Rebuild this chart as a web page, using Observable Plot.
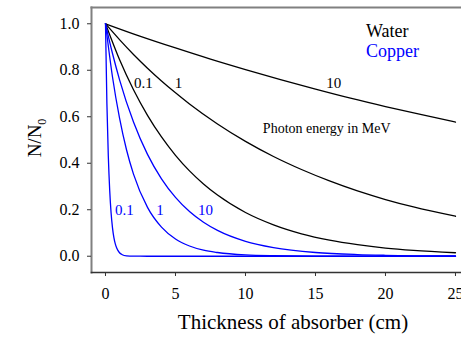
<!DOCTYPE html>
<html><head><meta charset="utf-8">
<script src="https://cdn.jsdelivr.net/npm/d3@7"></script>
<script src="https://cdn.jsdelivr.net/npm/@observablehq/plot@0.6"></script>
<style>body{margin:0;background:#fff} svg text{font-family:"Liberation Serif",serif !important}</style>
</head><body><div id="chart"></div>
<script>
// Water curves (black), photon energy in MeV
const water10X = [0, 2.5, 5, 7.5, 10, 12.5, 15, 17.5, 20, 22.5, 25];
const water10Y = [1, 0.946, 0.896, 0.848, 0.803, 0.760, 0.719, 0.680, 0.644, 0.610, 0.577];
const water1X = [0, 1, 2, 3, 4, 5, 6, 8, 10, 12, 14, 16, 18, 20, 22, 25];
const water1Y = [1, 0.932, 0.868, 0.809, 0.754, 0.703, 0.655, 0.569, 0.494, 0.429, 0.373, 0.324, 0.281, 0.244, 0.212, 0.172];
const water01X = [0, 1, 2, 3, 4, 5, 6, 7, 8, 10, 12, 14, 16, 18, 20, 22, 25];
const water01Y = [1, 0.846, 0.716, 0.606, 0.513, 0.434, 0.367, 0.311, 0.263, 0.188, 0.135, 0.0965, 0.069, 0.0495, 0.035, 0.025, 0.015];
// Copper curves (blue)
const copper10X = [0, 0.5, 1, 2, 3, 4, 5, 6, 7, 8, 10, 12, 15, 18, 20, 25];
const copper10Y = [1, 0.872, 0.760, 0.577, 0.438, 0.333, 0.253, 0.192, 0.146, 0.111, 0.064, 0.037, 0.016, 0.0071, 0.0041, 0.001];
const copper1X = [0, 0.5, 1, 1.5, 2, 3, 4, 5, 6, 7, 8, 10, 12, 15, 20, 25];
const copper1Y = [1, 0.771, 0.595, 0.458, 0.353, 0.210, 0.125, 0.074, 0.044, 0.026, 0.016, 0.0055, 0.002, 0.0004, 0, 0];
const copper01X = [0, 0.1, 0.2, 0.3, 0.4, 0.5, 0.6, 0.7, 0.8, 1.0, 1.2, 1.5, 2, 3, 25];
const copper01Y = [1, 0.657, 0.432, 0.284, 0.186, 0.122, 0.080, 0.053, 0.035, 0.015, 0.0065, 0.0018, 0.0002, 0, 0];

const xTicks = [0, 5, 10, 15, 20, 25];
const yTicks = [0, 0.2, 0.4, 0.6, 0.8, 1.0];

const labelTexts = ["0.1", "1", "10", "0.1", "1", "10"];
const labelMaterials = ["Water", "Water", "Water", "Copper", "Copper", "Copper"];
const labelX = [2.71, 5.21, 16.3, 1.35, 3.9, 7.15];
const labelY = [0.745, 0.745, 0.745, 0.196, 0.196, 0.196];

const legendTexts = ["Water", "Copper"];
const legendX = [18.6, 18.6];
const legendY = [0.945, 0.857];

const noteText = "Photon energy in MeV";

const colors = {Water: "#000000", Copper: "#0000ff"};

const seriesDefs = [
  ["Water", "10", water10X, water10Y],
  ["Water", "1", water1X, water1Y],
  ["Water", "0.1", water01X, water01Y],
  ["Copper", "10", copper10X, copper10Y],
  ["Copper", "1", copper1X, copper1Y],
  ["Copper", "0.1", copper01X, copper01Y]
];
const rows = seriesDefs.flatMap(([m, e, xs, ys]) => xs.map((x, i) => ({material: m, energy: e, key: m + e, x, y: ys[i]})));
const labels = labelTexts.map((t, i) => ({text: t, material: labelMaterials[i], x: labelX[i], y: labelY[i]}));
const legend = legendTexts.map((t, i) => ({text: t, x: legendX[i], y: legendY[i]}));

const FONT = "Liberation Serif";
const chart = Plot.plot({
  width: 461,
  height: 337,
  marginLeft: 91,
  marginRight: 0,
  marginTop: 7,
  marginBottom: 65,
  style: {fontFamily: FONT, background: "#fff", color: "#000"},
  x: {domain: [-1, 25.43], label: null},
  y: {domain: [-0.07, 1.07], label: null},
  marks: [
    Plot.frame({anchor: "top", stroke: "#808080", strokeWidth: 2}),
    Plot.frame({anchor: "left", stroke: "#808080", strokeWidth: 2}),
    Plot.frame({anchor: "bottom", stroke: "#333", strokeWidth: 1.6}),
    Plot.axisX({ticks: xTicks, tickSize: 4, tickPadding: 11, fontSize: 16, fontFamily: FONT, stroke: "#333", tickFormat: d3.format("d")}),
    Plot.axisY({ticks: yTicks, tickSize: 4, tickPadding: 8, fontSize: 16, fontFamily: FONT, stroke: "#333", tickFormat: d3.format(".1f")}),
    Plot.line(rows, {x: "x", y: "y", z: "key", stroke: d => colors[d.material], strokeWidth: 1.3, curve: "monotone-x"}),
    Plot.text(labels, {x: "x", y: "y", text: "text", fill: d => colors[d.material], fontSize: 15, fontFamily: FONT}),
    Plot.text(legend, {x: "x", y: "y", text: "text", fill: d => colors[d.text], fontSize: 18, fontFamily: FONT, textAnchor: "start", lineAnchor: "bottom"}),
    Plot.text([noteText], {x: () => 15.8, y: () => 0.548, text: d => d, fontSize: 14, fontFamily: FONT})
  ]
});
document.getElementById("chart").appendChild(chart);

const svg = d3.select(chart);
svg.append("text")
  .attr("x", 293).attr("y", 329)
  .attr("text-anchor", "middle")
  .attr("font-family", FONT)
  .attr("font-size", 21)
  .attr("fill", "#000")
  .text("Thickness of absorber (cm)");
const yl = svg.append("text")
  .attr("transform", "translate(41,138) rotate(-90)")
  .attr("text-anchor", "middle")
  .attr("font-family", FONT)
  .attr("font-size", 19)
  .attr("fill", "#000");
yl.append("tspan").text("N/N");
yl.append("tspan").attr("font-size", 12).attr("dy", 5).text("0");
</script>
</body></html>
